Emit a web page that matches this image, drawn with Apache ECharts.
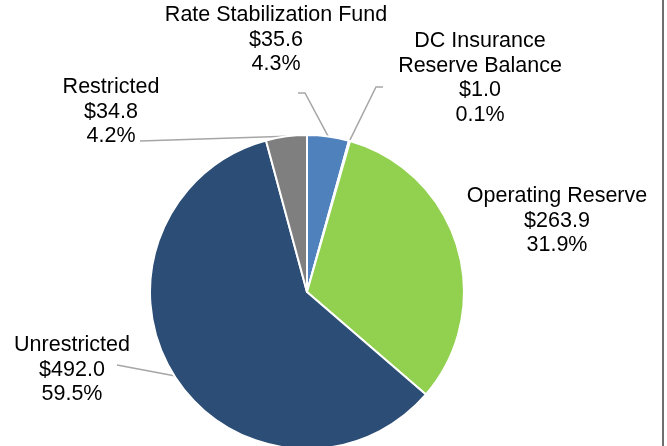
<!DOCTYPE html>
<html>

<head>
  <meta charset="utf-8" />
  <script src="https://cdn.jsdelivr.net/npm/echarts@6/dist/echarts.min.js"></script>
</head>

<body style="margin:0">
  <div id="main" style="width: 667px;height:446px;"></div>
  <script type="text/javascript">
    var myChart = echarts.init(document.getElementById('main'));

    // data
    var categories = ['Rate Stabilization Fund', 'DC Insurance\nReserve Balance', 'Operating Reserve', 'Unrestricted', 'Restricted']
    var amounts = [35.6, 1.0, 263.9, 492.0, 34.8]
    var colors = ['#4F81BD', '#C0504D', '#92D050', '#2C4D75', '#7F7F7F']

    // where each label block sits and the bend of its leader line
    var labelSpots = [
      { x: 276, y: 40, line: [[305, 93], [298, 93]] },
      { x: 480, y: 78, line: [[376, 87], [383, 87]] },
      { x: 557, y: 221, line: null },
      { x: 72, y: 370, line: [[117, 365], [117, 365]] },
      { x: 111, y: 112, line: [[140, 141], [140, 141]] }
    ]

    var pieData = categories.map(function (name, i) {
      return { name: name, value: amounts[i], itemStyle: { color: colors[i] } }
    })

    var option = {
      animation: false,
      graphic: [{
        type: 'rect',
        shape: { x: 662, y: 0, width: 2, height: 446 },
        style: { fill: '#6f6f6f' }
      }],
      series: [
        {
          type: 'pie',
          center: [307, 292],
          radius: 157,
          startAngle: 90,
          clockwise: true,
          avoidLabelOverlap: false,
          percentPrecision: 1,
          data: pieData,
          itemStyle: { borderColor: '#fff', borderWidth: 2 },
          label: {
            show: true,
            position: 'outside',
            fontFamily: 'Liberation Sans, Arial, sans-serif',
            fontSize: 21.5,
            lineHeight: 24.5,
            color: '#000',
            formatter: function (p) {
              return p.name + '\n$' + p.value.toFixed(1) + '\n' + p.percent.toFixed(1) + '%'
            }
          },
          labelLine: {
            show: true,
            length: 10,
            length2: 10,
            lineStyle: { color: '#A6A6A6', width: 1.5 }
          },
          labelLayout: function (params) {
            var spot = labelSpots[params.dataIndex]
            var out = { x: spot.x, y: spot.y, align: 'center', verticalAlign: 'middle' }
            if (spot.line && params.labelLinePoints) {
              out.labelLinePoints = [params.labelLinePoints[0], spot.line[0], spot.line[1]]
            } else {
              out.labelLinePoints = [[0, 0], [0, 0], [0, 0]]
            }
            return out
          }
        }
      ]
    };

    myChart.setOption(option);
  </script>
</body>

</html>
